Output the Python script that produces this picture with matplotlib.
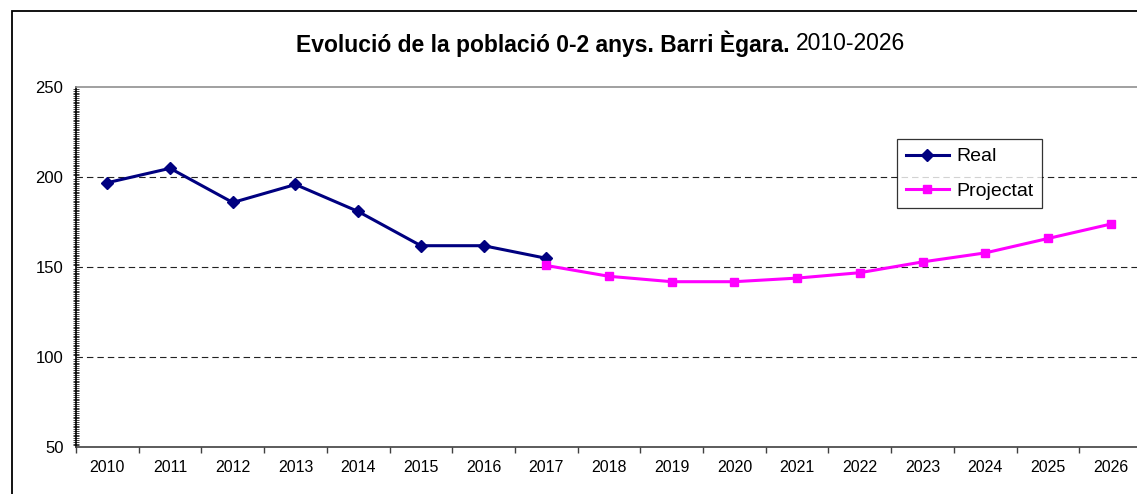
import numpy as np
import matplotlib
matplotlib.use("Agg")
from matplotlib import pyplot as plt
from matplotlib.patches import Rectangle
from matplotlib.ticker import FixedLocator, MultipleLocator

plt.rcParams['font.family'] = ['Liberation Sans', 'DejaVu Sans']

years = [str(y) for y in range(2010, 2027)]
real_years = years[:8]
real_values = [197, 205, 186, 196, 181, 162, 162, 155]
proj_years = years[7:]
proj_values = [151, 145, 142, 142, 144, 147, 153, 158, 166, 174]

W, H = 1137, 494
fig = plt.figure(figsize=(W / 100, H / 100), dpi=100)

# outer chart border (right/bottom edges fall outside the image)
fig.patches.append(Rectangle((12 / W, -0.2), 1.2, 1.2 - 11 / H,
                             transform=fig.transFigure, fill=False,
                             edgecolor='black', linewidth=1.3, clip_on=False))

left, right, top, bottom = 76, 1142, 87.3, 447.3
ax = fig.add_axes([left / W, 1 - bottom / H, (right - left) / W, (bottom - top) / H])

x_real = [years.index(y) for y in real_years]
x_proj = [years.index(y) for y in proj_years]

ax.plot(x_real, real_values, color='#000080', linewidth=2.2, marker='D',
        markersize=6, label='Real', zorder=3)
ax.plot(x_proj, proj_values, color='#FF00FF', linewidth=2.2, marker='s',
        markersize=6, label='Projectat', zorder=3)

ax.set_xlim(-0.5, len(years) - 0.5)
ax.set_ylim(50, 250)

# category labels centered, tick marks at category boundaries
ax.xaxis.set_major_locator(FixedLocator(np.arange(-0.5, len(years), 1)))
ax.xaxis.set_minor_locator(FixedLocator(np.arange(len(years))))
ax.set_xticklabels([])
ax.set_xticklabels(years, minor=True)
ax.tick_params(axis='x', which='major', length=4, width=1, color='#404040', direction='out')
ax.tick_params(axis='x', which='minor', length=0, pad=9, labelsize=11.5)

ax.set_yticks([50, 100, 150, 200, 250])
ax.yaxis.set_minor_locator(MultipleLocator(1))
ax.tick_params(axis='y', which='major', length=0, pad=9, labelsize=12)
ax.tick_params(axis='y', which='minor', length=4, width=0.6, direction='inout', color='#222222')

for v in [100, 150, 200]:
    ax.axhline(v, color='#222222', linewidth=0.8, dashes=(5.8, 3.6), zorder=1)

ax.spines['left'].set_color('black')
ax.spines['left'].set_linewidth(1.2)
ax.spines['bottom'].set_color('#404040')
ax.spines['bottom'].set_linewidth(1.2)
ax.spines['top'].set_color('#909090')
ax.spines['top'].set_linewidth(1.2)
ax.spines['right'].set_visible(False)

leg = ax.legend(loc='upper left', bbox_to_anchor=((897 - left) / (right - left), 1 - (139 - top) / (bottom - top)),
                fontsize=14, frameon=True, fancybox=False, edgecolor='black',
                borderaxespad=0, handlelength=2.2, borderpad=0.45, labelspacing=0.85,
                handletextpad=0.4, handleheight=0.7)
leg.get_frame().set_linewidth(0.9)

# title: bold part + normal part
t1 = fig.text(296 / W, 1 - 44 / H, 'Evolució de la població 0-2 anys. Barri Ègara.',
              fontsize=16.5, fontweight='bold', ha='left', va='center')
fig.canvas.draw()
bb = t1.get_window_extent()
fig.text((bb.x1 + 6) / W, 1 - 44 / H, '2010-2026', fontsize=16.5, ha='left', va='center')

fig.savefig('out.png', dpi=100)
